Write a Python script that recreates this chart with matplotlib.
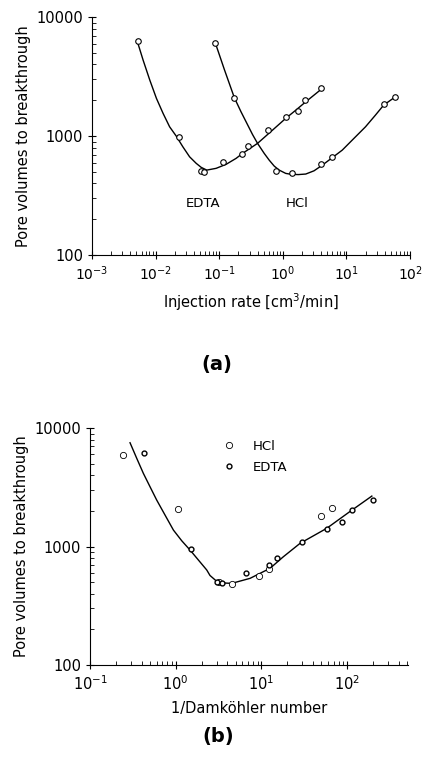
import matplotlib
matplotlib.use("Agg")
import matplotlib.pyplot as plt
from matplotlib.ticker import LogLocator, NullFormatter

plt.rcParams['font.family'] = ['DejaVu Sans']

# (a) measured points vs injection rate
edta_rate = [0.0052, 0.023, 0.052, 0.058, 0.115, 0.226, 0.287, 0.577, 1.13, 1.70, 2.26, 3.93]
edta_pv = [6300, 975, 511, 499, 608, 706, 824, 1130, 1435, 1633, 2030, 2530]
hcl_rate = [0.0866, 0.173, 0.776, 1.38, 3.92, 5.85, 38.5, 58.6]
hcl_pv = [6010, 2110, 511, 493, 578, 662, 1845, 2140]

# (a) fitted curves
edta_fit_x = [0.00512, 0.00635, 0.00809, 0.0103, 0.0131, 0.0166, 0.0211, 0.0268, 0.0342,
              0.0435, 0.0521, 0.0637, 0.0893, 0.128, 0.184, 0.233, 0.40, 0.687, 1.11,
              1.60, 2.29, 4.17]
edta_fit_y = [6320, 4360, 2960, 2075, 1552, 1197, 1000, 813, 670, 590, 546, 518, 536, 579,
              650, 716, 869, 1122, 1410, 1653, 1942, 2518]
hcl_fit_x = [0.0873, 0.1205, 0.173, 0.220, 0.264, 0.334, 0.40, 0.509, 0.61, 0.731, 0.875,
             1.11, 1.33, 1.75, 2.29, 3.09, 4.17, 8.57, 13.1, 19.9, 28.5, 38.5, 58.6]
hcl_fit_y = [6010, 3620, 2099, 1600, 1320, 1030, 869, 716, 628, 560, 518, 486, 478, 475,
             480, 511, 570, 762, 957, 1197, 1500, 1824, 2138]

# (b) same data vs 1/Damkohler number
hcl_da = [0.24, 1.07, 3.2, 4.54, 9.4, 12.4, 50, 67]
hcl_da_pv = [5880, 2085, 500, 480, 561, 641, 1807, 2113]
edta_da = [0.43, 1.51, 3.0, 3.44, 6.67, 12.4, 15.2, 30, 58, 87, 113, 202]
edta_da_pv = [6200, 953, 501, 489, 601, 702, 800, 1100, 1405, 1610, 2020, 2480]
da_fit_x = [0.293, 0.351, 0.419, 0.501, 0.60, 0.75, 0.94, 1.175, 1.47, 1.84, 2.30, 2.51,
            3.14, 4.50, 7.36, 12.6, 18.0, 28.2, 57.8, 107, 194]
da_fit_y = [7520, 5550, 4150, 3200, 2467, 1845, 1377, 1119, 934, 769, 634, 570, 495, 489,
            539, 655, 820, 1064, 1426, 1968, 2667]

FS = 10.5


def style_axes(ax, xlim):
    ax.set_xscale('log')
    ax.set_yscale('log')
    ax.set_xlim(*xlim)
    ax.set_ylim(100, 10000)
    ax.spines['top'].set_visible(False)
    ax.spines['right'].set_visible(False)
    ax.set_yticks([100, 1000, 10000])
    ax.set_yticklabels(['100', '1000', '10000'])
    ax.yaxis.set_minor_locator(LogLocator(base=10, subs=range(2, 10)))
    ax.yaxis.set_minor_formatter(NullFormatter())
    ax.xaxis.set_minor_locator(LogLocator(base=10, subs=range(2, 10), numticks=20))
    ax.xaxis.set_minor_formatter(NullFormatter())
    ax.tick_params(which='major', direction='inout', length=6, width=0.8, labelsize=FS)
    ax.tick_params(which='minor', direction='in', length=3, width=0.6)
    ax.set_ylabel('Pore volumes to breakthrough', fontsize=FS)


fig = plt.figure(figsize=(4.23, 7.57), dpi=100)

ax1 = fig.add_axes([0.2175, 0.663, 0.752, 0.3144])
style_axes(ax1, (1e-3, 1e2))
ax1.set_xticks([1e-3, 1e-2, 1e-1, 1e0, 1e1, 1e2])
ax1.tick_params(axis='x', labelsize=10)
ax1.plot(edta_fit_x, edta_fit_y, color='black', lw=1.0)
ax1.plot(hcl_fit_x, hcl_fit_y, color='black', lw=1.0)
ax1.plot(edta_rate, edta_pv, 'o', ms=4, mfc='white', mec='black', mew=0.8)
ax1.plot(hcl_rate, hcl_pv, 'o', ms=4, mfc='white', mec='black', mew=0.8)
ax1.text(0.055, 273, 'EDTA', ha='center', va='center', fontsize=9.5)
ax1.text(1.67, 273, 'HCl', ha='center', va='center', fontsize=9.5)
ax1.set_xlabel('Injection rate [cm$^3$/min]', fontsize=FS, labelpad=6)
fig.text(0.513, 0.518, '(a)', ha='center', va='center', fontsize=14, fontweight='bold')

ax2 = fig.add_axes([0.2128, 0.1215, 0.752, 0.313])
style_axes(ax2, (0.1, 514))
ax2.set_xticks([1e-1, 1e0, 1e1, 1e2])
ax2.plot(da_fit_x, da_fit_y, color='black', lw=1.0)
ax2.plot(hcl_da, hcl_da_pv, 'o', ms=4.5, mfc='white', mec='black', mew=0.6, label='HCl')
ax2.plot(edta_da, edta_da_pv, 'o', ms=3.5, mfc='white', mec='black', mew=1.0, label='EDTA')
ax2.legend(loc='upper left', bbox_to_anchor=(0.38, 1.0), frameon=False, fontsize=9.5,
           handletextpad=1.3, labelspacing=0.6, handlelength=1.0)
ax2.set_xlabel('1/Damköhler number', fontsize=FS, labelpad=6)
fig.text(0.515, 0.014, '(b)', ha='center', va='bottom', fontsize=14, fontweight='bold')

fig.savefig('out.png', dpi=100)
